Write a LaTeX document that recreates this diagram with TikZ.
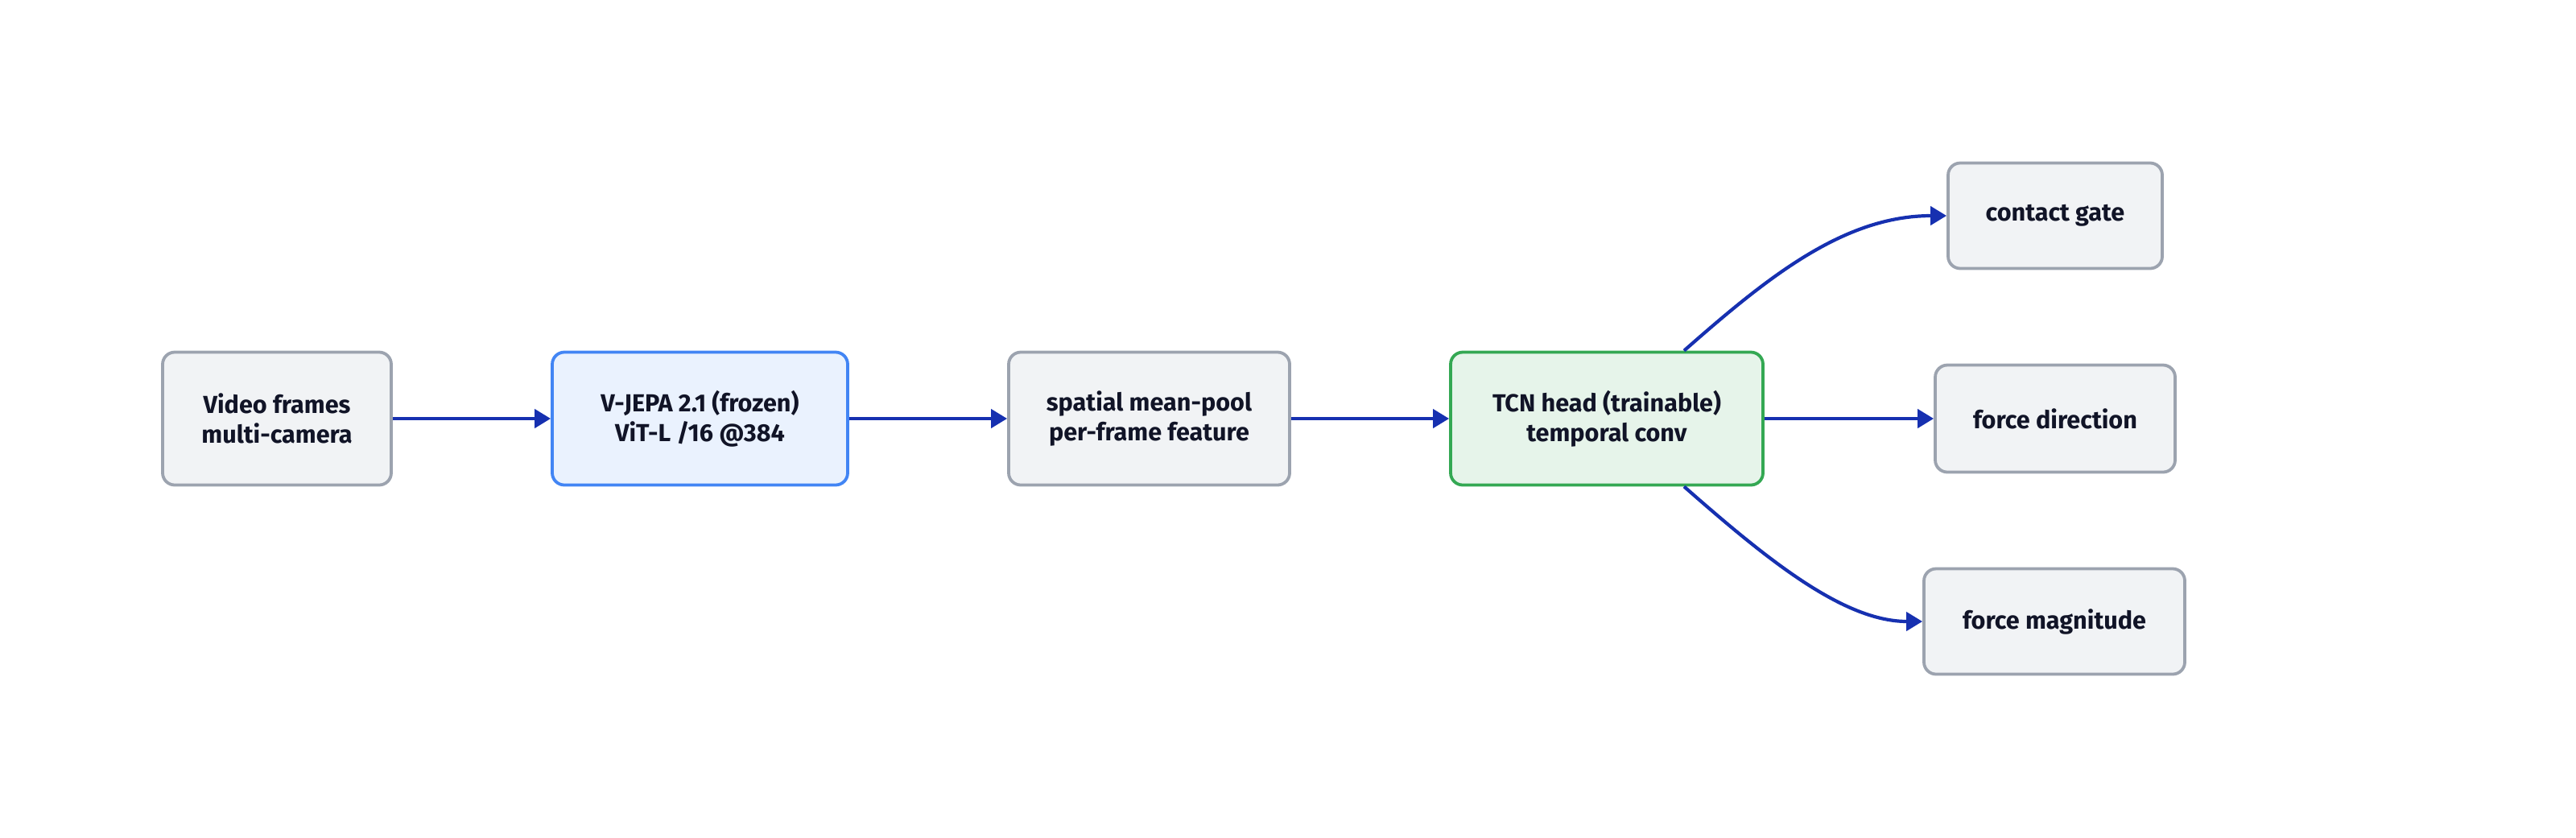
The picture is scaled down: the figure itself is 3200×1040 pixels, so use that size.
\documentclass[tikz,border=0pt]{standalone}
\usepackage{fontspec}
\setmainfont{Fira Sans}
\usetikzlibrary{arrows.meta}
\definecolor{txt}{RGB}{17,20,39}
\definecolor{gfill}{RGB}{241,243,245}
\definecolor{gline}{RGB}{156,163,175}
\definecolor{bfill}{RGB}{234,242,254}
\definecolor{bline}{RGB}{66,133,244}
\definecolor{nfill}{RGB}{230,244,234}
\definecolor{nline}{RGB}{52,168,83}
\definecolor{arrowc}{RGB}{22,48,176}
\begin{document}
\begin{tikzpicture}[x=0.5pt,y=-0.5pt,
  box/.style={rounded corners=7.5pt, line width=1.9pt, align=center,
    font=\fontsize{15.3}{18.5}\selectfont\bfseries, text=txt, inner sep=0pt},
  greybox/.style={box, fill=gfill, draw=gline},
  bluebox/.style={box, fill=bfill, draw=bline},
  greenbox/.style={box, fill=nfill, draw=nline},
  conn/.style={draw=arrowc, line width=2.1pt, -{Triangle[length=10pt,width=11.5pt]}}]
\useasboundingbox (0,0) rectangle (3200,1040);
\node[greybox, minimum width=142pt, minimum height=82.5pt] (video) at (344,520) {Video frames\\multi-camera};
\node[bluebox, minimum width=183.5pt, minimum height=82.5pt] (vjepa) at (869.5,520) {V-JEPA 2.1 (frozen)\\ViT-L /16 @384};
\node[greybox, minimum width=174.5pt, minimum height=82.5pt] (pool) at (1427.5,520) {spatial mean-pool\\per-frame feature};
\node[greenbox, minimum width=194pt, minimum height=82.5pt] (tcn) at (1996,520) {TCN head (trainable)\\temporal conv};
\node[greybox, minimum width=133pt, minimum height=65.5pt] (gate) at (2553,268) {contact gate};
\node[greybox, minimum width=149pt, minimum height=66.5pt] (dir) at (2553,520) {force direction};
\node[greybox, minimum width=162pt, minimum height=65.5pt] (mag) at (2552,772) {force magnitude};
\coordinate (tcnT) at ([xshift=48pt]tcn.north);
\coordinate (tcnB) at ([xshift=48pt]tcn.south);
\draw[conn] (video) -- (vjepa);
\draw[conn] (vjepa) -- (pool);
\draw[conn] (pool) -- (tcn);
\draw[conn] (tcn) -- (dir);
\draw[conn] (tcnT) .. controls (2195,345) and (2290,268) .. (gate.west);
\draw[conn] (tcnB) .. controls (2195,695) and (2290,772) .. (mag.west);
\end{tikzpicture}
\end{document}
